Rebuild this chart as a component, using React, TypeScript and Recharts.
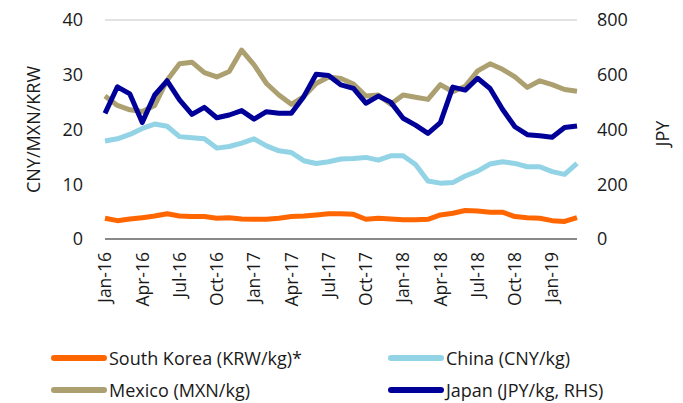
import React from 'react';
import { LineChart, Line, XAxis, YAxis, CartesianGrid, Legend } from 'recharts';

const months = [
  'Jan-16', 'Feb-16', 'Mar-16', 'Apr-16', 'May-16', 'Jun-16', 'Jul-16', 'Aug-16', 'Sep-16', 'Oct-16', 'Nov-16', 'Dec-16',
  'Jan-17', 'Feb-17', 'Mar-17', 'Apr-17', 'May-17', 'Jun-17', 'Jul-17', 'Aug-17', 'Sep-17', 'Oct-17', 'Nov-17', 'Dec-17',
  'Jan-18', 'Feb-18', 'Mar-18', 'Apr-18', 'May-18', 'Jun-18', 'Jul-18', 'Aug-18', 'Sep-18', 'Oct-18', 'Nov-18', 'Dec-18',
  'Jan-19', 'Feb-19', 'Mar-19',
];

const southKorea = [
  3.8, 3.35, 3.65, 3.9, 4.2, 4.6, 4.2, 4.1, 4.1, 3.8, 3.9, 3.65,
  3.6, 3.6, 3.8, 4.1, 4.2, 4.4, 4.6, 4.6, 4.5, 3.6, 3.8, 3.65,
  3.5, 3.5, 3.6, 4.4, 4.7, 5.2, 5.1, 4.9, 4.9, 4.1, 3.9, 3.8,
  3.35, 3.2, 3.9,
];

const china = [
  17.9, 18.3, 19.1, 20.2, 21.0, 20.6, 18.7, 18.5, 18.3, 16.6, 16.9, 17.5,
  18.3, 17.0, 16.1, 15.8, 14.3, 13.8, 14.1, 14.6, 14.7, 14.9, 14.4, 15.2,
  15.2, 13.6, 10.6, 10.2, 10.3, 11.5, 12.4, 13.7, 14.1, 13.8, 13.2, 13.2,
  12.3, 11.8, 13.8,
];

const mexico = [
  26.1, 24.4, 23.6, 23.3, 24.4, 29.0, 32.0, 32.3, 30.4, 29.6, 30.6, 34.5,
  31.8, 28.4, 26.3, 24.6, 26.0, 28.4, 29.6, 29.3, 28.3, 26.1, 26.3, 24.6,
  26.3, 25.9, 25.5, 28.2, 26.9, 27.9, 30.7, 32.0, 31.0, 29.6, 27.7, 28.9,
  28.2, 27.3, 27.0,
];

const japan = [
  459, 556, 530, 426, 526, 578, 508, 455, 481, 443, 453, 469,
  438, 465, 459, 459, 520, 602, 597, 563, 550, 496, 522, 500,
  441, 416, 386, 425, 555, 544, 587, 550, 474, 410, 381, 377,
  372, 407, 413,
];

const leftTicks = [0, 10, 20, 30, 40];
const rightTicks = [0, 200, 400, 600, 800];

const seriesInfo = [
  { key: 'korea', name: 'South Korea (KRW/kg)*', color: '#FF6600' },
  { key: 'china', name: 'China (CNY/kg)', color: '#92D3E5' },
  { key: 'mexico', name: 'Mexico (MXN/kg)', color: '#ACA071' },
  { key: 'japan', name: 'Japan (JPY/kg, RHS)', color: '#000099' },
];

const data = months.map((m, i) => ({
  month: m,
  korea: southKorea[i],
  china: china[i],
  mexico: mexico[i],
  japan: japan[i],
}));

const FONT = '"Open Sans", "Noto Sans", sans-serif';
const TEXT = '#1a1a1a';

const XTick = (props: any) => {
  const { x, y, payload } = props;
  return (
    <text
      x={x}
      y={y}
      transform={`rotate(-90, ${x}, ${y})`}
      textAnchor="end"
      dy="0.36em"
      fontSize={17.5}
      fontFamily={FONT}
      fill={TEXT}
    >
      {payload.value}
    </text>
  );
};

const LeftTitle = (props: any) => {
  const vb = props.viewBox || {};
  const cx = vb.x + 25;
  const cy = vb.y + vb.height / 2;
  return (
    <text
      x={cx}
      y={cy}
      transform={`rotate(-90, ${cx}, ${cy})`}
      textAnchor="middle"
      dominantBaseline="central"
      fontSize={18}
      fontFamily={FONT}
      fill={TEXT}
    >
      CNY/MXN/KRW
    </text>
  );
};

const RightTitle = (props: any) => {
  const vb = props.viewBox || {};
  const cx = vb.x + 85;
  const cy = vb.y + vb.height / 2 + 4;
  return (
    <text
      x={cx}
      y={cy}
      transform={`rotate(-90, ${cx}, ${cy})`}
      textAnchor="middle"
      dominantBaseline="central"
      fontSize={18}
      fontFamily={FONT}
      fill={TEXT}
    >
      JPY
    </text>
  );
};

const LegendContent = () => {
  const cols = [43, 380];
  const rows = [350, 382];
  const order = [
    { s: seriesInfo[0], c: 0, r: 0 },
    { s: seriesInfo[1], c: 1, r: 0 },
    { s: seriesInfo[2], c: 0, r: 1 },
    { s: seriesInfo[3], c: 1, r: 1 },
  ];
  return (
    <div style={{ position: 'relative', width: 675, height: 395 }}>
      {order.map(({ s, c, r }) => (
        <div
          key={s.key}
          style={{
            position: 'absolute',
            left: cols[c],
            top: rows[r] - 10,
            height: 20,
            display: 'flex',
            alignItems: 'center',
            whiteSpace: 'nowrap',
          }}
        >
          <span
            style={{
              display: 'inline-block',
              width: 56,
              height: 6,
              borderRadius: 3,
              background: s.color,
              marginRight: 2,
            }}
          />
          <span style={{ fontFamily: FONT, fontSize: 18, lineHeight: '20px', color: TEXT }}>{s.name}</span>
        </div>
      ))}
    </div>
  );
};

export default function App() {
  return (
    <LineChart
      width={675}
      height={395}
      data={data}
      margin={{ top: 12, right: 0, bottom: 0, left: 0 }}
    >
      <CartesianGrid vertical={false} stroke="#D9D9D9" strokeWidth={1.5} />
      <XAxis
        dataKey="month"
        interval={2}
        height={164}
        tickLine={false}
        tickSize={6}
        tickMargin={7}
        axisLine={{ stroke: '#898989', strokeWidth: 2 }}
        tick={<XTick />}
      />
      <YAxis
        yAxisId="left"
        domain={[0, 40]}
        ticks={leftTicks}
        width={97}
        axisLine={false}
        tickLine={false}
        tickMargin={16}
        tick={{ fontSize: 18, fontFamily: FONT, fill: TEXT }}
        label={<LeftTitle />}
      />
      <YAxis
        yAxisId="right"
        orientation="right"
        domain={[0, 800]}
        ticks={rightTicks}
        width={106}
        axisLine={false}
        tickLine={false}
        tickMargin={14}
        tick={{ fontSize: 18, fontFamily: FONT, fill: TEXT, textAnchor: 'start' }}
        label={<RightTitle />}
      />
      <Legend
        verticalAlign="middle"
        align="center"
        layout="horizontal"
        wrapperStyle={{ left: 0, top: 0, width: 675, height: 395, pointerEvents: 'none' }}
        content={<LegendContent />}
      />
      <Line yAxisId="left" dataKey="korea" name={seriesInfo[0].name} stroke={seriesInfo[0].color} strokeWidth={5} dot={false} isAnimationActive={false} strokeLinejoin="round" />
      <Line yAxisId="left" dataKey="china" name={seriesInfo[1].name} stroke={seriesInfo[1].color} strokeWidth={5} dot={false} isAnimationActive={false} strokeLinejoin="round" />
      <Line yAxisId="left" dataKey="mexico" name={seriesInfo[2].name} stroke={seriesInfo[2].color} strokeWidth={5} dot={false} isAnimationActive={false} strokeLinejoin="round" />
      <Line yAxisId="right" dataKey="japan" name={seriesInfo[3].name} stroke={seriesInfo[3].color} strokeWidth={5} dot={false} isAnimationActive={false} strokeLinejoin="round" />
    </LineChart>
  );
}
